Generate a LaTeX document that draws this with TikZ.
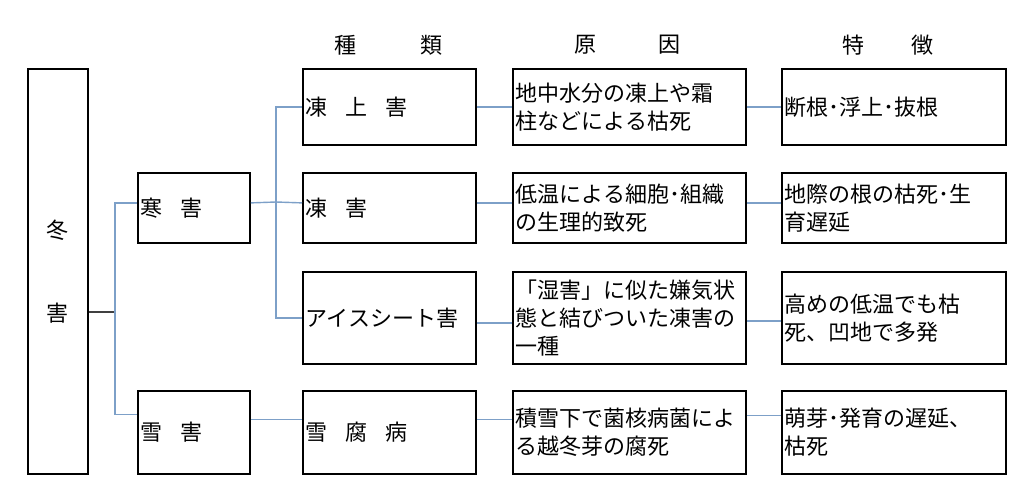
\documentclass[tikz,border=0pt]{standalone}
\usepackage{fontspec}
\setmainfont{Noto Sans CJK JP}
\usepackage{tikz}
\definecolor{linkblue}{RGB}{125,160,200}
\definecolor{trunkgray}{RGB}{64,64,64}
\newcommand{\gap}{\hspace{18pt}}

\begin{document}
\begin{tikzpicture}[x=1pt, y=-1pt, font=\fontsize{22pt}{28pt}\selectfont,
  box/.style = {draw, line width=1.8pt, anchor=north west, inner sep=3pt, align=left},
  group/.style = {box, text width=106pt},
  kind/.style = {box, text width=167pt},
  cause/.style = {box, text width=227pt},
  feat/.style = {box, text width=218pt},
  link/.style = {draw=linkblue, line width=1.4pt},
  trunk/.style = {draw=trunkgray, line width=1.4pt}]
\useasboundingbox[fill=white] (0,0) rectangle (1034,486);
% headings
\node (hkind) at (388.5,45) {種\hspace{65pt}類};
\node (hcause) at (627.5,45) {原\hspace{63pt}因};
\node (hfeat) at (887.5,45) {特\hspace{47pt}徴};
% boxes
\node[box, align=center, minimum width=60pt, minimum height=405pt] (winter) at (27,68) {冬\\[55pt]害};
\node[group, minimum height=70pt] (cold) at (137,172) {寒\gap 害};
\node[group, minimum height=83pt] (snow) at (137,390) {雪\gap 害};
\node[kind, minimum height=76pt] (t1) at (302,68) {凍\gap 上\gap 害};
\node[kind, minimum height=70pt] (t2) at (302,172) {凍\gap 害};
\node[kind, minimum height=92pt] (t3) at (302,271) {アイスシート害};
\node[kind, minimum height=83pt] (t4) at (302,390) {雪\gap 腐\gap 病};
\node[cause, minimum height=76pt] (c1) at (512,68) {地中水分の凍上や霜\\柱などによる枯死};
\node[cause, minimum height=70pt] (c2) at (512,172) {低温による細胞･組織\\の生理的致死};
\node[cause, minimum height=92pt] (c3) at (512,271) {「湿害」に似た嫌気状\\態と結びついた凍害の\\一種};
\node[cause, minimum height=83pt] (c4) at (512,390) {積雪下で菌核病菌によ\\る越冬芽の腐死};
\node[feat, minimum height=76pt] (f1) at (781,68) {断根･浮上･抜根};
\node[feat, minimum height=70pt] (f2) at (781,172) {地際の根の枯死･生\\育遅延};
\node[feat, minimum height=92pt] (f3) at (781,271) {高めの低温でも枯\\死、凹地で多発};
\node[feat, minimum height=83pt] (f4) at (781,390) {萌芽･発育の遅延、\\枯死};
% connectors
\coordinate (j1) at (115,312);
\coordinate (j2) at (276,202);
\draw[trunk] (winter.east |- j1) -- (j1);
\draw[link] (j1) |- ([yshift=5pt]cold.west);
\draw[link] (j1) |- ([yshift=18pt]snow.west);
\draw[link] ([yshift=5pt]cold.east) -- (j2);
\draw[link] (j2) |- (t1.west);
\draw[link] (j2) -- ([yshift=5pt]t2.west);
\draw[link] (j2) |- (t3.west);
\draw[link] ([yshift=13pt]snow.east) -- ([yshift=13pt]t4.west);
\draw[link] (t1.east) -- (c1.west);
\draw[link] ([yshift=5pt]t2.east) -- ([yshift=5pt]c2.west);
\draw[link] ([yshift=-5pt]t3.east) -- ([yshift=-5pt]c3.west);
\draw[link] ([yshift=13pt]t4.east) -- ([yshift=13pt]c4.west);
\draw[link] (c1.east) -- (f1.west);
\draw[link] ([yshift=5pt]c2.east) -- ([yshift=5pt]f2.west);
\draw[link] ([yshift=-3pt]c3.east) -- ([yshift=-3pt]f3.west);
\draw[link] ([yshift=17pt]c4.east) -- ([yshift=17pt]f4.west);
\end{tikzpicture}
\end{document}
